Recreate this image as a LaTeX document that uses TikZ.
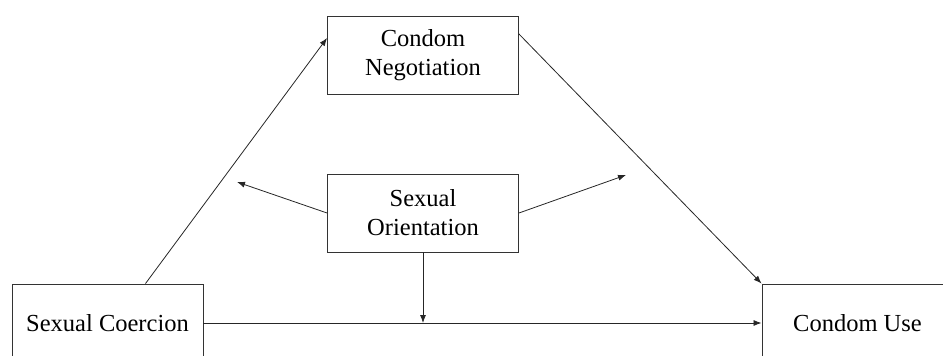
\documentclass[tikz,border=0pt]{standalone}
\usepackage{fontspec}
\setmainfont{Liberation Serif}
\usetikzlibrary{arrows.meta,calc}
\begin{document}
\begin{tikzpicture}[x=1pt,y=-1pt,
  box/.style={draw=black!80,line width=0.9pt,rectangle,minimum width=191pt,minimum height=78pt,
    inner sep=0pt,align=center,font=\fontsize{24.5}{29}\selectfont},
  conn/.style={draw=black!85,line width=0.8pt,-{Latex[length=8pt,width=6pt]}}]
\useasboundingbox (0,0) rectangle (943,356);
\clip (0,0) rectangle (943,356);
% variables
\node[box] (sc) at (107.5,323) {Sexual Coercion};
\node[box] (cu) at (857.5,323) {Condom Use};
\node[box] (cn) at (423,55) {Condom\\Negotiation};
\node[box] (so) at (423,213) {Sexual\\Orientation};
% moderation targets on the paths
\coordinate (ma) at (237,182);
\coordinate (mb) at (626,175);
\coordinate (mc) at (so.south |- sc.east);
% paths
\draw[conn] ([xshift=38pt]sc.north) -- ([yshift=17pt]cn.west);
\draw[conn] ([yshift=21pt]cn.east) -- (cu.north west);
\draw[conn] (sc.east) -- (cu.west);
\draw[conn] (so.west) -- (ma);
\draw[conn] (so.east) -- (mb);
\draw[conn] (so.south) -- (mc);
\end{tikzpicture}
\end{document}
